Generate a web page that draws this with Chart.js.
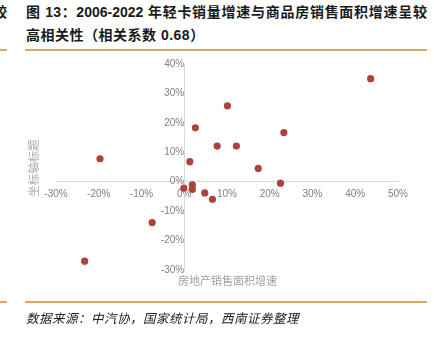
<!DOCTYPE html>
<html>
<head>
<meta charset="utf-8">
<script src="https://cdn.jsdelivr.net/npm/chart.js@4.4.1/dist/chart.umd.min.js"></script>
<style>
  html, body { margin: 0; padding: 0; background: #fff; }
  body { width: 434px; height: 343px; position: relative; overflow: hidden;
         font-family: "Liberation Sans", "Noto Sans CJK SC", sans-serif; }
  .abs { position: absolute; white-space: nowrap; }
  .title { font-weight: bold; font-size: 14px; line-height: 20px; color: #1a1a1a; }
  .rule { position: absolute; height: 2px; background: #d9aa66; }
  #chartBox { position: absolute; left: 0; top: 52px; }
</style>
</head>
<body>
<div class="abs title" style="left:-7px; top:2px;">较</div>
<div class="abs title" style="left:26px; top:2px; width:401px; text-align:justify; text-align-last:justify;">图 13：2006-2022 年轻卡销量增速与商品房销售面积增速呈较</div>
<div class="abs title" style="left:26px; top:25px; letter-spacing:0.5px;">高相关性（相关系数 0.68）</div>
<div class="rule" style="left:0; width:7px; top:49px;"></div>
<div class="rule" style="left:25px; width:402px; top:49px;"></div>

<div id="chartBox"><canvas id="c" width="434" height="250"></canvas></div>

<div class="abs" style="left:33px; top:168px; transform: translate(-50%, -50%) rotate(-90deg); font-size:11.5px; color:#a6a6a6; font-family:'Noto Sans CJK SC', sans-serif;">坐标轴标题</div>
<div class="abs" style="left:178px; top:272px; font-size:11px; line-height:16px; color:#a0a0a0; font-family:'Noto Sans CJK SC', sans-serif;">房地产销售面积增速</div>

<div class="rule" style="left:0; width:7px; top:301px;"></div>
<div class="rule" style="left:25px; width:402px; top:301px;"></div>
<div class="abs" style="left:26px; top:309px; font-size:12.5px; line-height:18px; letter-spacing:0.5px; font-style:italic; color:#222; font-family:'Noto Sans CJK SC', sans-serif;">数据来源：中汽协，国家统计局，西南证券整理</div>

<script>
// 房地产销售面积增速 (%), 2006-2022
const areaGrowth = [-19.7, 10.1, 2.6, 7.7, 1.3, -0.1, 1.9, 1.9, 4.8, 6.6, 43.6, 23.3, 12.2, 17.3, 22.5, -7.5, -23.3];
// 轻卡销量增速 (%)
const truckGrowth = [7.8, 25.8, 18.3, 12.1, 6.8, -2.2, -1.1, -2.6, -3.8, -6.0, 35.0, 16.7, 12.1, 4.5, -0.5, -13.9, -27.0];

const xTicks = [-30, -20, -10, 0, 10, 20, 30, 40, 50];
const yTicks = [-30, -20, -10, 0, 10, 20, 30, 40];

const points = areaGrowth.map((x, i) => ({ x: x, y: truckGrowth[i] }));

const tickFont = { family: 'Liberation Sans', size: 10 };
const axisColor = '#d9d9d9';

new Chart(document.getElementById('c').getContext('2d'), {
  type: 'scatter',
  data: {
    datasets: [{
      data: points,
      backgroundColor: '#b0403c',
      borderColor: '#b0403c',
      borderWidth: 0,
      pointRadius: 3.6
    }]
  },
  options: {
    responsive: false,
    animation: false,
    layout: { padding: { left: 56, right: 36, top: 12, bottom: 32 } },
    plugins: { legend: { display: false }, tooltip: { enabled: false } },
    scales: {
      x: {
        type: 'linear',
        position: { y: 0 },
        min: xTicks[0],
        max: xTicks[xTicks.length - 1],
        afterBuildTicks: axis => { axis.ticks = xTicks.map(v => ({ value: v })); },
        grid: { drawOnChartArea: false, drawTicks: true, tickLength: 4, color: 'rgba(0,0,0,0)' },
        border: { color: axisColor, width: 1 },
        ticks: { color: '#808080', font: tickFont, padding: 3, maxRotation: 0,
                 callback: v => v + '%' }
      },
      y: {
        type: 'linear',
        position: { x: 0 },
        min: yTicks[0],
        max: yTicks[yTicks.length - 1],
        afterBuildTicks: axis => { axis.ticks = yTicks.map(v => ({ value: v })); },
        grid: { drawOnChartArea: false, drawTicks: true, tickLength: 8, color: 'rgba(0,0,0,0)' },
        border: { color: axisColor, width: 1 },
        ticks: { color: '#808080', font: tickFont, padding: 3,
                 callback: v => v + '%' }
      }
    }
  }
});
</script>
</body>
</html>
